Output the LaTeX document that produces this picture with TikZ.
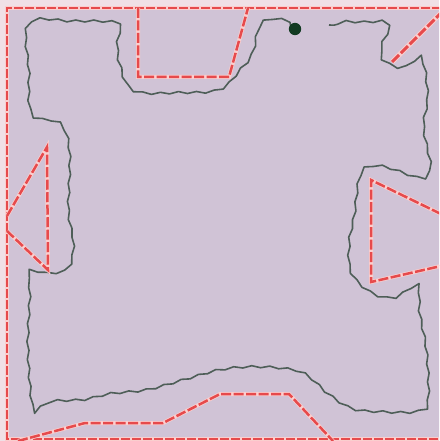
\documentclass[tikz,border=0pt]{standalone}
\usetikzlibrary{decorations.pathmorphing}
\definecolor{bgout}{RGB}{240,224,230}
\definecolor{bgin}{RGB}{208,195,214}
\definecolor{redc}{RGB}{230,74,76}
\definecolor{halo}{RGB}{250,206,206}
\definecolor{curvec}{RGB}{78,94,88}
\definecolor{dotc}{RGB}{18,58,34}
\tikzset{
  redline/.style={preaction={draw=halo,line width=4pt,solid},draw=redc,line width=2.5pt,dash pattern=on 10pt off 2.5pt,line join=miter},
  borderline/.style={preaction={draw=halo,line width=3.6pt,solid},draw=redc,line width=2.2pt,dash pattern=on 9pt off 2pt},
  wavy/.style={draw=curvec,line width=1.6pt,line join=round,decorate,decoration={snake,amplitude=1pt,segment length=18pt}},
}
\begin{document}
\begin{tikzpicture}[x=1pt,y=-1pt]
\useasboundingbox (0,0) rectangle (439,441);
\clip (0,0) rectangle (439,441);
\fill[bgout] (0,0) rectangle (439,441);
\fill[bgin] (7,8) rectangle (445,445);
% wavy boundary
\draw[wavy] plot[smooth,tension=0.6] coordinates{
 (291,28) (272,25) (259,33) (252,60) (239,77) (219,96) (180,99) (133,97) (119,70) (117,45) (118,32)
 (70,30) (27,32) (27,80) (30,123) (58,132) (68,160) (67,220) (72,253) (67,277) (50,282) (27,280)
 (27,303) (25,353) (28,403) (33,420) (50,410) (83,408) (110,402) (147,398) (187,387) (220,378)
 (252,375) (286,377) (306,383) (329,403) (352,417) (379,420) (416,420) (427,410) (426,360)
 (419,320) (416,290) (392,302) (369,297) (349,277) (347,247) (352,220) (359,177) (379,170)
 (419,182) (429,173) (422,133) (426,100) (419,62) (399,72) (379,63) (379,47) (386,27) (360,26) (329,25)};
\fill[dotc] (295,29) circle (6.2);
% border
\draw[borderline] (441,8) -- (7,8) -- (7,439) -- (441,439);
% top trapezoid
\draw[redline] (138,8) -- (138,77) -- (229,77) -- (248,8);
% top right diagonal
\draw[redline,line width=3pt,preaction={draw=halo,line width=5pt,solid}] (392,62) -- (444,10);
% left triangle
\draw[redline] (7,216) -- (47,147) -- (48,270) -- (7,231);
% right triangle
\draw[redline] (441,214) -- (371,180) -- (371,282) -- (441,266);
% bottom polyline
\draw[redline] (18,441) -- (85,423) -- (163,423) -- (220,394) -- (289,394) -- (333,441);
\end{tikzpicture}
\end{document}
